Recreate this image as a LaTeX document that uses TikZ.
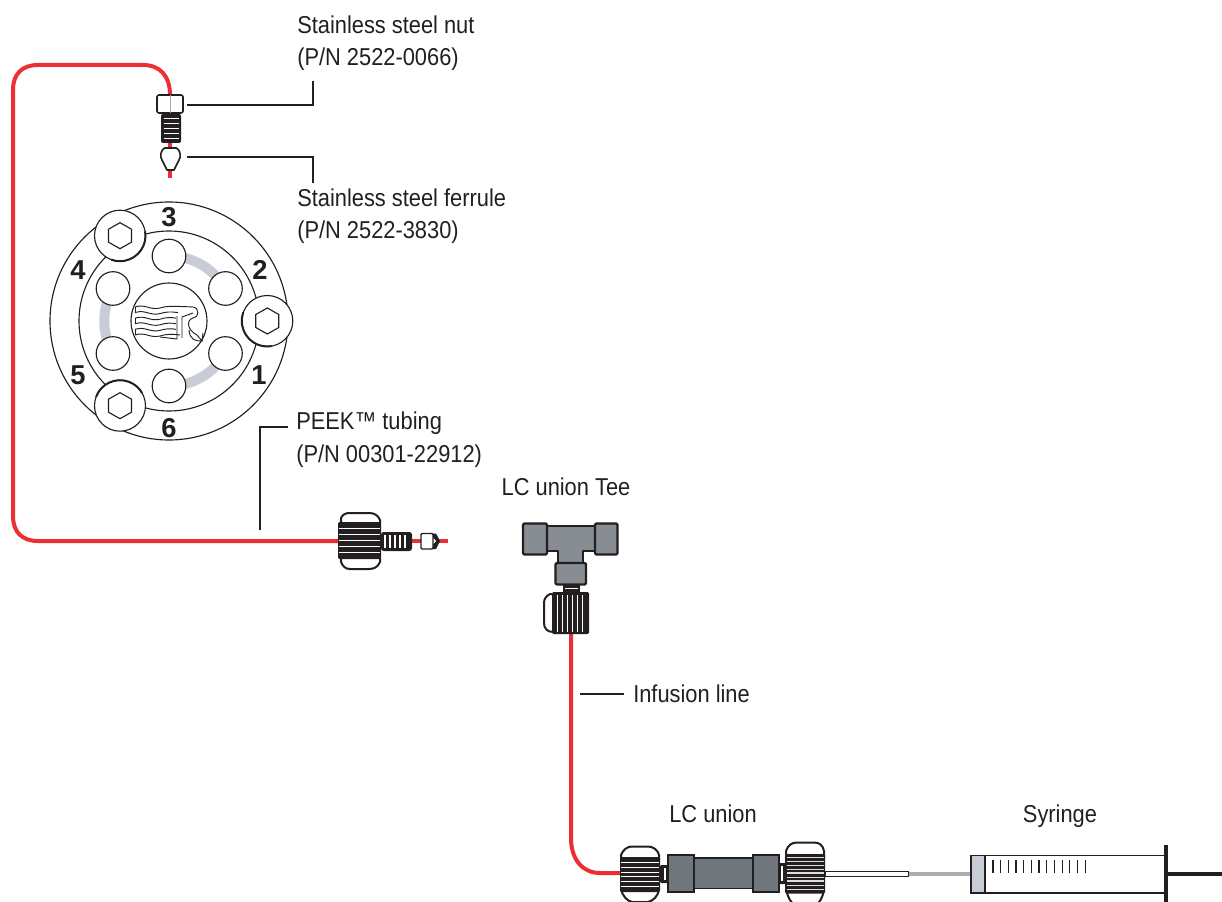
\documentclass[tikz,border=0pt]{standalone}
\usepackage{fontspec}
\setmainfont[FakeStretch=0.895]{Liberation Sans}
\definecolor{tubered}{HTML}{EE2E35}
\definecolor{ink}{HTML}{231F20}
\definecolor{unionGrey}{HTML}{70777C}
\definecolor{teeGrey}{HTML}{878D93}
\definecolor{ringGrey}{HTML}{C8CCD5}
\definecolor{lineGrey}{HTML}{A9ACB0}
\tikzset{
  lab/.style={inner sep=0pt,anchor=base west,font=\fontsize{18.3pt}{18.3pt}\selectfont,text=ink},
  labc/.style={inner sep=0pt,anchor=base,font=\fontsize{18.3pt}{18.3pt}\selectfont,text=ink},
  num/.style={inner sep=0pt,font=\fontsize{20.5pt}{20.5pt}\selectfont\bfseries\addfontfeature{FakeStretch=1.0},text=ink},
  leader/.style={draw=ink,line width=1.35pt},
  thin line/.style={draw=ink,line width=0.85pt},
  tube/.style={draw=tubered,line width=3pt},
  block/.style={draw=ink,line width=1.7pt,line join=round},
}
\newcommand{\stripesH}[5]{% x0 x1 y0 y1 n : white horizontal lines
  \foreach \i in {1,...,#5}{
    \pgfmathsetmacro{\yy}{#3+(#4-#3)*\i/(#5+1)}
    \draw[white,line width=0.6pt] (#1+1,\yy) -- (#2-1,\yy);
  }}
\begin{document}
\begin{tikzpicture}[x=0.75pt,y=-0.75pt]
\useasboundingbox (0,0) rectangle (1222,902);
\clip (0,0) rectangle (1222,902);

% ---------- labels
\node[lab] (nutA) at (297,34) {Stainless steel nut};
\node[lab] (nutB) at (297,66) {(P/N 2522-0066)};
\node[lab] (ferA) at (297,207) {Stainless steel ferrule};
\node[lab] (ferB) at (297,239) {(P/N 2522-3830)};
\node[lab] (peekA) at (296,430) {PEEK™ tubing};
\node[lab] (peekB) at (296,463) {(P/N 00301-22912)};
\node[labc] (teeL) at (566,495) {LC union Tee};
\node[lab] (infL) at (633,702) {Infusion line};
\node[labc] (unionL) at (713,822) {LC union};
\node[labc] (syrL) at (1060,822) {Syringe};

% ---------- red tubing
\draw[tube] (170,95) .. controls (170,76) and (160,65) .. (143,65) -- (38,65)
  .. controls (22,65) and (13,74) .. (13,90) -- (13,516)
  .. controls (13,532) and (22,541) .. (38,541) -- (340,541);
\draw[tube] (170,143) -- (170,178);
\draw[tube] (412,541) -- (448,541);
\draw[tube] (571,632) -- (571,838) .. controls (571,860) and (583,873) .. (600,873) -- (622,873);

% ---------- nut & ferrule on top
\coordinate (nutEnd) at (187,105);
\coordinate (nutTop) at (313,81);
\coordinate (ferEnd) at (187,157);
\coordinate (ferTop) at (313,183);
\coordinate (peekEnd) at (260,530);
\coordinate (peekTop) at (288,427);
\coordinate (infEnd) at (580,694);
\coordinate (infTop) at (624,694);
\draw[block,fill=white,line width=1.2pt,rounded corners=1.5pt] (157,95) rectangle (183,113);
\draw[draw=lineGrey,line width=0.5pt] (170,95) -- (170,113);
\fill[ink,rounded corners=1.5pt] (161,114) rectangle (181,143);
\foreach \y in {118.5,123.5,128.5,133.5,138.5}{
  \draw[white,line width=1.3pt] (163.5,\y) -- (178.5,\y);
}
\draw[ink,line width=1.2pt,fill=white,line join=round]
  (164.5,148) -- (176.5,148) .. controls (181,151) and (181,157) .. (179,160)
  -- (174,170) -- (167,170) -- (162,160) .. controls (160,157) and (160,151) .. (164.5,148) -- cycle;

% ---------- leaders
\draw[leader] (nutEnd) -| (nutTop);
\draw[leader] (ferEnd) -| (ferTop);
\draw[leader] (peekTop) -| (peekEnd);
\draw[leader] (infEnd) -- (infTop);

% ---------- valve
\coordinate (vc) at (169,321);
\draw[thin line] (vc) circle[radius=119];
\draw[thin line] (vc) circle[radius=90];
\draw[thin line] (vc) circle[radius=38];
\draw[ringGrey,line width=7.5pt] (169,256) arc[start angle=-90,end angle=-30,radius=65];
\draw[ringGrey,line width=7.5pt] (113,288.5) arc[start angle=210,end angle=150,radius=65];
\draw[ringGrey,line width=7.5pt] (169,386) arc[start angle=90,end angle=30,radius=65];
\foreach \p in {(169,256),(225.5,288.5),(225.5,353.5),(169,386),(113,353.5),(113,288.5)}{
  \draw[thin line,fill=white] \p circle[radius=16.8];
}
\foreach \px/\py/\aa/\ab in {120/235.7/-10/110,267.3/321/80/200,120/405.7/200/330}{
  \begin{scope}[shift={(\px,\py)}]
    \draw[thin line,fill=white] (0,0) circle[radius=25.5];
    \draw[ink,line width=1.5pt] (\aa:25.5) arc[start angle=\aa,end angle=\ab,radius=25.5];
    \draw[thin line] (0,-13) -- (11.5,-6.5) -- (11.5,6.5) -- (0,13) -- (-11.5,6.5) -- (-11.5,-6.5) -- cycle;
  \end{scope}
}
\node[num] (n3) at (169,217) {3};
\node[num] (n2) at (260,270) {2};
\node[num] (n1) at (259,375) {1};
\node[num] (n6) at (169,428) {6};
\node[num] (n5) at (78,375) {5};
\node[num] (n4) at (78,270) {4};

% logo
\begin{scope}[line width=0.7pt]
  \foreach \y/\xe in {0/193,1/178,2/176,3/176,4/176,5/180}{
    \pgfmathsetmacro{\yy}{307+\y*5.6}
    \draw[ink] (135,\yy) .. controls (145,\yy-3.5) and (150,\yy+3.5) .. (160,\yy+1) .. controls (166,\yy-1) and (172,\yy-1) .. (\xe,\yy);
  }
  \draw[ink] (135,307) -- (135,312.6) (135,318.2) -- (135,323.8) (135,329.4) -- (135,335);
  \draw[ink] (193,307) .. controls (200,308) and (199,318) .. (193,318)  .. controls (186,320) and (187,330) .. (197,335) -- (202,341) -- (203,333);
  \draw[ink] (182,338) -- (182,317) -- (193,313);
  \draw[ink] (177,316) -- (177,339) -- (160,337);
  \draw[ink] (189,330) .. controls (190,340) and (195,341) .. (202,341);
\end{scope}

% ---------- connector knob on the tubing
\draw[ink,line width=1.5pt,fill=white] (341,524) -- (341,518) .. controls (343,514) and (346,513) .. (350,513) -- (369,513) .. controls (374,513) and (378,515) .. (380,520) -- (380,524);
\draw[ink,line width=1.5pt,fill=white] (341,558) -- (341,562) .. controls (343,567) and (346,569) .. (350,569) -- (369,569) .. controls (374,569) and (378,567) .. (380,562) -- (380,558);
\fill[ink,rounded corners=1pt] (338,522) rectangle (381,559);
\stripesH{338}{381}{523}{558}{5}
\fill[ink,rounded corners=2pt] (381,532) rectangle (412,551);
\foreach \x in {385,390,395,400,405}{\draw[white,line width=1.1pt] (\x,535) -- (\x,548);}
\draw[ink,line width=1.1pt,fill=white,rounded corners=0.8pt] (421,533.5) rectangle (433,549);
\fill[ink] (433,533.5) -- (436,533.5) -- (440,541) -- (436,549) -- (433,549) -- cycle;
\fill[white] (433.5,538) -- (436,541) -- (433.5,544) -- cycle;

% ---------- tee
\draw[block,fill=teeGrey] (547,526) -- (595,526) -- (595,551) -- (583,551) -- (583,563) -- (558,563) -- (558,551) -- (547,551) -- cycle;
\draw[block,fill=teeGrey,rounded corners=1pt] (523,523.5) rectangle (547,554.5);
\draw[block,fill=teeGrey,rounded corners=1pt] (595,523.5) rectangle (617.5,554.5);
\draw[block,fill=teeGrey,rounded corners=1pt] (555.5,563) rectangle (586,584.5);
\fill[ink] (563,585) rectangle (580,592);
\draw[white,line width=0.9pt] (565,588.5) -- (578,588.5);
\draw[ink,line width=1.5pt,fill=white] (553,594) -- (550,594) .. controls (546,596) and (544,599) .. (544,603) -- (544,623) .. controls (544,628) and (547,632) .. (553,632);
\fill[ink,rounded corners=1pt] (552,592) rectangle (589,634);
\foreach \x in {557,562,567,572,577,582}{\draw[white,line width=0.6pt] (\x,595) -- (\x,632);}

% ---------- LC union, left knob
\draw[ink,line width=1.5pt,fill=white] (621,860) -- (621,855) .. controls (623,850) and (627,846.5) .. (632,846.5) -- (648,846.5) .. controls (653,846.5) and (658,850) .. (659,855) -- (659,860);
\draw[ink,line width=1.5pt,fill=white] (621,890) .. controls (623,896) and (627,901) .. (632,902) -- (648,902) .. controls (653,901) and (658,896) .. (659,890);
\fill[ink,rounded corners=1pt] (620,857) rectangle (660,892);
\stripesH{620}{660}{858}{891}{6}
% union body
\fill[ink,rounded corners=1pt] (660,865) rectangle (668,883);
\draw[white,line width=0.9pt] (665,868) -- (665,880);
\draw[ink,line width=1.1pt,fill=unionGrey] (694,858) rectangle (753,888.5);
\draw[ink,line width=1.1pt,fill=unionGrey] (668,855) rectangle (694,892);
\draw[ink,line width=1.1pt,fill=unionGrey] (753,855) rectangle (779,892);
\fill[ink,rounded corners=1pt] (779,863) rectangle (786,884);
\draw[white,line width=0.9pt] (782,866) -- (782,881);
% right knob
\draw[ink,line width=1.5pt,fill=white] (786,858) -- (786,851) .. controls (788,845) and (792,842.5) .. (797,842.5) -- (814,842.5) .. controls (819,842.5) and (823,845) .. (824,851) -- (824,858);
\draw[ink,line width=1.5pt,fill=white] (786,890) .. controls (788,896) and (790,904) .. (797,906) -- (814,906) .. controls (820,904) and (823,896) .. (824,890);
\fill[ink,rounded corners=1pt] (785,854) rectangle (825,893.5);
\foreach \y/\w in {857.5/1.3,861.5/0.8,865.5/1.4,869.5/0.7,873/1.4,877/0.7,881/0.9,885/0.6,889/0.6}{
  \draw[white!85!ink,line width=\w pt] (786.5,\y) -- (823.5,\y);
}
% needle
\draw[ink,line width=0.8pt,fill=white] (825,871.5) rectangle (908.5,876.5);
\draw[lineGrey,line width=3.3pt] (908.5,874) -- (971,874);

% ---------- syringe
\draw[ink,line width=1pt,fill=white] (971,855.5) rectangle (1166,893);
\draw[ink,line width=1pt,fill=ringGrey] (971,855.5) rectangle (985,893);
\foreach \i in {0,...,12}{
  \pgfmathsetmacro{\xx}{993+\i*7.67}
  \draw[ink,line width=0.8pt] (\xx,860) -- (\xx,873);
}
\draw[ink,line width=2.3pt] (1166,845) -- (1166,902);
\draw[ink,line width=2.3pt] (1166,874) -- (1222,874);
\end{tikzpicture}
\end{document}
